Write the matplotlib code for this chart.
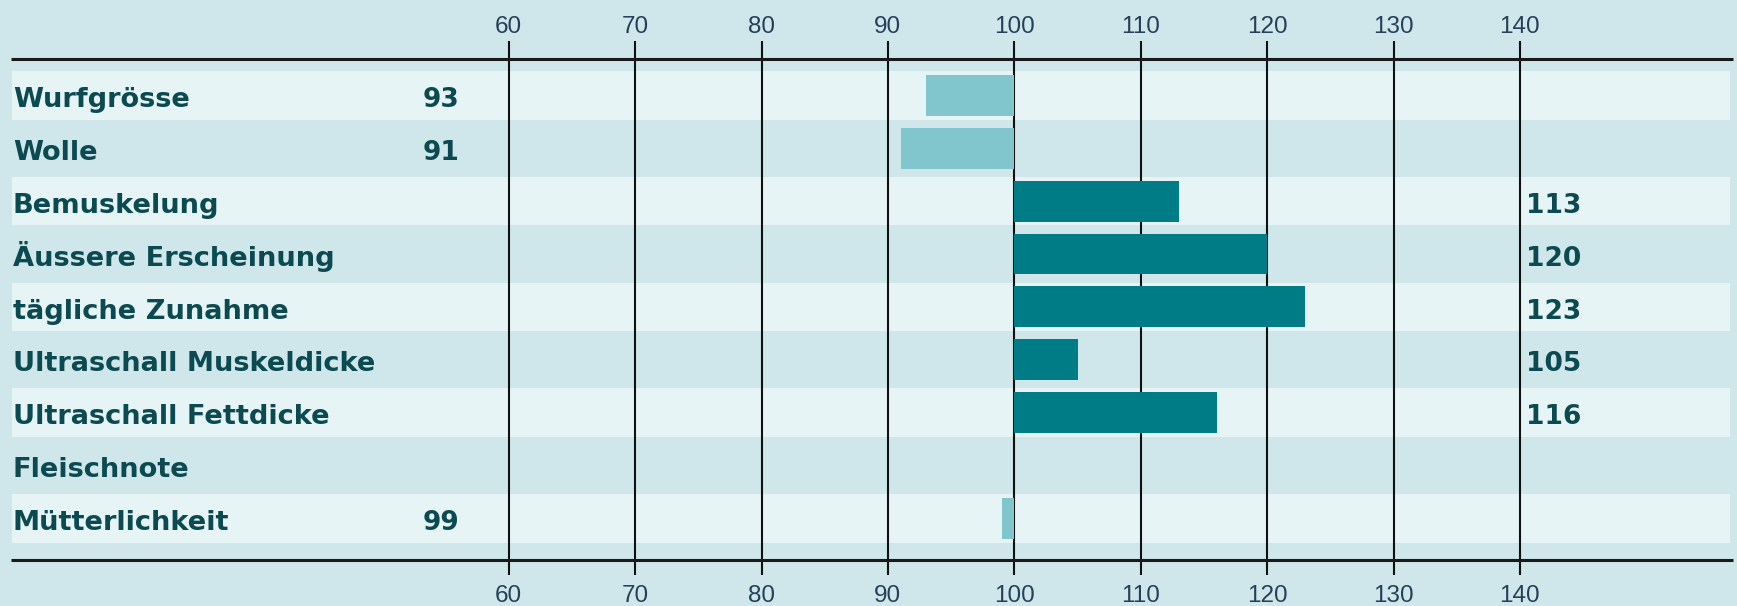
import matplotlib
matplotlib.use('Agg')
import matplotlib.pyplot as plt
from matplotlib import font_manager

# data
categories = ['Wurfgrösse', 'Wolle', 'Bemuskelung', 'Äussere Erscheinung',
              'tägliche Zunahme', 'Ultraschall Muskeldicke',
              'Ultraschall Fettdicke', 'Fleischnote', 'Mütterlichkeit']
values = [93, 91, 113, 120, 123, 105, 116, None, 99]
ticks = [60, 70, 80, 90, 100, 110, 120, 130, 140]
base = 100

# colours
bg = '#cfe7ea'
band_col = '#e6f4f5'
low_col = '#80c6cc'
high_col = '#007c87'
text_col = '#0b4a51'
tick_col = '#25405a'

# pixel layout of the original (1737 x 606)
W, H = 1737, 606
x100, px_per_unit = 1014.3, 12.64
row0, row_h = 95.3, 52.9

names = [f.name for f in font_manager.fontManager.ttflist]
if 'Liberation Sans Narrow' in names:
    tick_font, tick_size = 'Liberation Sans Narrow', 20
else:
    tick_font, tick_size = 'Liberation Sans', 17.5

fig = plt.figure(figsize=(W / 100, H / 100), dpi=100, facecolor=bg)
ax = fig.add_axes([0, 0, 1, 1])
ax.set_facecolor(bg)
ax.axis('off')
ax.set_xlim(base - x100 / px_per_unit, base + (W - x100) / px_per_unit)
ax.set_ylim((H - row0) / row_h, -row0 / row_h)

n = len(categories)
rows = list(range(n))
tr = ax.get_yaxis_transform()  # x in axes fraction, y in data

# alternating bands
for i in rows:
    if i % 2 == 0:
        ax.fill_between([11.7 / W, 1730 / W], i - 0.46, i + 0.46,
                        color=band_col, lw=0, transform=tr, zorder=0)

# grid lines
ax.vlines(ticks, -1.03, n - 1 + 1.07, color='#111111', lw=1.5, zorder=1)

# bars
for i, v in zip(rows, values):
    if v is None:
        continue
    ax.barh(i, v - base, left=base, height=0.775,
            color=low_col if v < base else high_col, zorder=2)

# top / bottom rules
for yy in (-0.68, n - 1 + 0.785):
    ax.plot([11 / W, 1733 / W], [yy, yy], color='#1a1a1a', lw=2.2,
            transform=tr, zorder=3, solid_capstyle='butt')

# labels
for i, (c, v) in enumerate(zip(categories, values)):
    ax.text(12.7 / W, i + 0.22, c, transform=tr, ha='left', va='baseline',
            fontsize=19.6, fontweight='bold', color=text_col, family='DejaVu Sans')
    if v is None:
        continue
    if v < base:
        ax.text(459 / W, i + 0.22, str(v), transform=tr, ha='right', va='baseline',
                fontsize=19, fontweight='bold', color=text_col, family='DejaVu Sans')
    else:
        ax.text(1526 / W, i + 0.22, str(v), transform=tr, ha='left', va='baseline',
                fontsize=19, fontweight='bold', color=text_col, family='DejaVu Sans')

# tick labels top and bottom
for t in ticks:
    for yy in (-1.178, 9.57):
        ax.text(t, yy, str(t), ha='center', va='baseline', fontsize=tick_size,
                color=tick_col, family=[tick_font, 'DejaVu Sans'])

fig.savefig('out.png', dpi=100, facecolor=bg)
